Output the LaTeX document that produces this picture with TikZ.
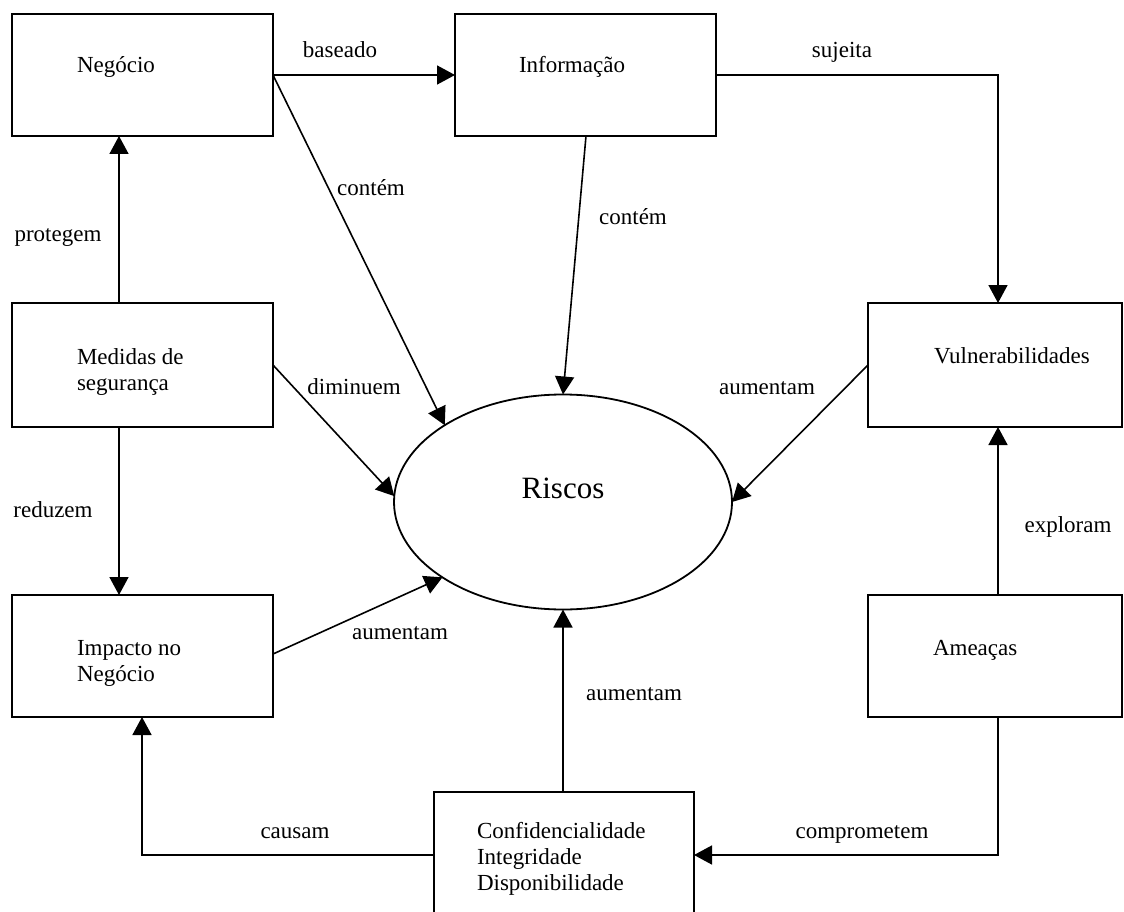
\documentclass[tikz,border=0pt]{standalone}
\usepackage{fontspec}
\setmainfont{Liberation Serif}
\usetikzlibrary{arrows.meta,shapes.geometric,calc}
\begin{document}
\begin{tikzpicture}[x=1pt,y=-1pt,
  every node/.style={inner sep=0pt,outer sep=0pt},
  boxnode/.style={draw,line width=1.6pt,minimum width=261pt,minimum height=122pt,anchor=north west},
  boxtext/.style={anchor=base west,align=left,font=\fontsize{23}{26}\selectfont},
  lbl/.style={anchor=base,font=\fontsize{23}{26}\selectfont},
  arr/.style={line width=1.6pt,-{Triangle[length=18pt,width=19pt]}},
  ln/.style={line width=1.6pt}]
\clip (0,0) rectangle (1124,912);
\fill[white] (0,0) rectangle (1124,912);

% boxes
\node[boxnode] (neg) at (12,14) {};
\node[boxnode] (inf) at (455,14) {};
\node[boxnode,minimum height=124pt] (med) at (12,303) {};
\node[boxnode,minimum width=254pt,minimum height=124pt] (vul) at (868,303) {};
\node[boxnode] (imp) at (12,595) {};
\node[boxnode,minimum width=254pt] (ame) at (868,595) {};
\node[boxnode,minimum width=260pt,minimum height=140pt] (cid) at (434,792) {};
\node[draw,ellipse,line width=1.8pt,minimum width=338pt,minimum height=215pt] (ris) at (563,502) {};

% box texts (base anchor = last line)
\node[boxtext] (tneg) at (77,73) {Negócio};
\node[boxtext] (tinf) at (519,73) {Informação};
\node[boxtext] (tmed) at (77,390) {Medidas de\\segurança};
\node[boxtext] (tvul) at (934,363) {Vulnerabilidades};
\node[boxtext] (timp) at (77,681) {Impacto no\\Negócio};
\node[boxtext] (tame) at (933,655) {Ameaças};
\node[boxtext] (tcid) at (477,890) {Confidencialidade\\Integridade\\Disponibilidade};
\node[anchor=center,font=\fontsize{31}{34}\selectfont] (tris) at (563,488) {Riscos};

% connector end points
\coordinate (cidL) at ([yshift=-63pt]cid.north west);
\coordinate (cidR) at ([yshift=-63pt]cid.north east);

% connectors
\draw[arr] (neg.east) -- (inf.west);
\draw[arr] (inf.east) -| ([xshift=3pt]vul.north);
\draw[arr] ([xshift=107pt]med.north west) -- ([xshift=107pt]neg.south west);
\draw[arr] ([xshift=107pt]med.south west) -- ([xshift=107pt]imp.north west);
\draw[arr] (cidL) -| ([xshift=130pt]imp.south west);
\draw[arr] ([xshift=3pt]ame.south) |- (cidR);
\draw[arr] ([xshift=3pt]ame.north) -- ([xshift=3pt]vul.south);
\draw[arr] (neg.east) -- (ris.147);
\draw[arr] ([xshift=131pt]inf.south west) -- (ris.north);
\draw[arr] ([yshift=-62pt]med.north east) -- (ris.178);
\draw[arr] ([yshift=-62pt]vul.north west) -- (ris.0);
\draw[arr] ([yshift=-59pt]imp.north east) -- (ris.212);
\draw[arr] ([xshift=129pt]cid.north west) -- (ris.south);

% labels
\node[lbl] (lbas) at (340,58) {baseado};
\node[lbl] (lsuj) at (842,58) {sujeita};
\node[lbl] (lcon1) at (371,196) {contém};
\node[lbl] (lcon2) at (633,225) {contém};
\node[lbl] (lpro) at (58,241) {protegem};
\node[lbl] (ldim) at (354,394) {diminuem};
\node[lbl] (laum1) at (767,394) {aumentam};
\node[lbl] (lred) at (53,517) {reduzem};
\node[lbl] (lexp) at (1068,532) {exploram};
\node[lbl] (laum2) at (400,639) {aumentam};
\node[lbl] (laum3) at (634,700) {aumentam};
\node[lbl] (lcau) at (295,838) {causam};
\node[lbl] (lcom) at (862,838) {comprometem};
\end{tikzpicture}
\end{document}
